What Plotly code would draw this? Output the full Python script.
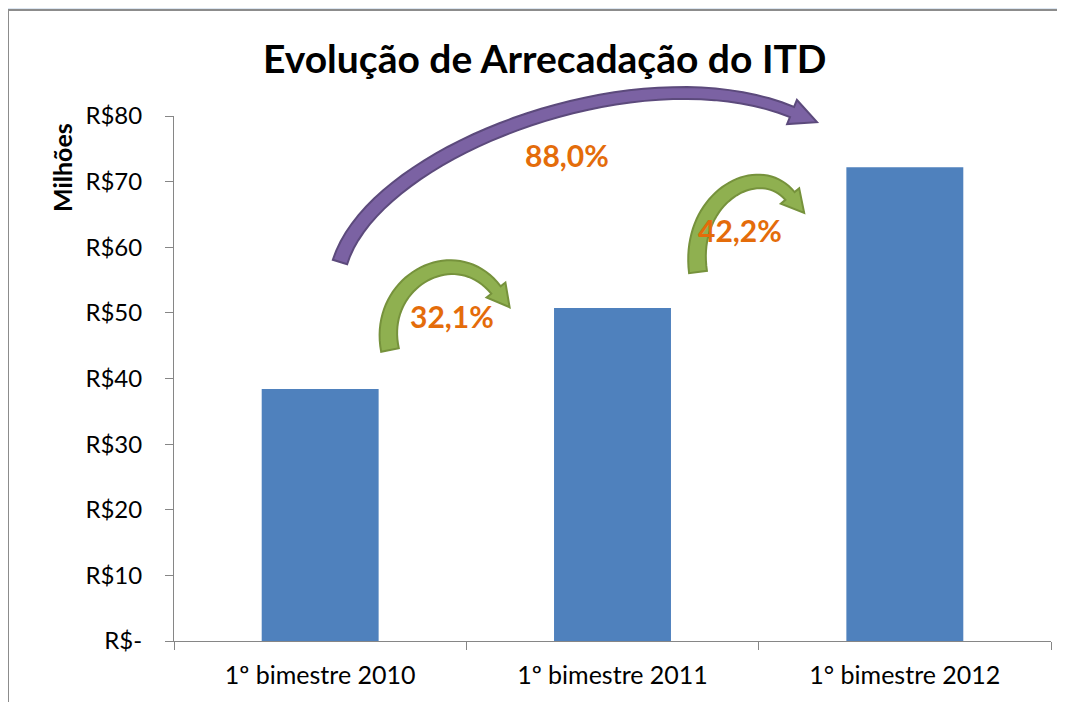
import numpy as np
import plotly.graph_objects as go

# data (R$ milhões)
categories = ["1º bimestre 2010", "1º bimestre 2011", "1° bimestre 2012"]
arrecadacao = [38.4, 50.75, 72.2]
y_tickvals = [0, 10, 20, 30, 40, 50, 60, 70, 80]
y_ticktext = ["R$-", "R$10", "R$20", "R$30", "R$40", "R$50", "R$60", "R$70", "R$80"]
growth_labels = ["32,1%", "42,2%", "88,0%"]

FONT = "Lato"
W, H = 1065, 702
OFF = 8  # page body margin
L, R, T, B = 174 - OFF, 22, 116 - OFF, 69
PW, PH = W - L - R, H - T - B


def to_paper(x, y):
    # pixel position on the screenshot -> paper coordinates
    return (x - OFF - L) / PW, (H - B - (y - OFF)) / PH


def arrow_path(ctrl, w0, w1, head_w, head_l, n=40):
    """curved block arrow along a cubic bezier given in pixels"""
    p = np.array(ctrl, dtype=float)
    t = np.linspace(0, 1, n)[:, None]
    pts = ((1 - t) ** 3) * p[0] + 3 * ((1 - t) ** 2) * t * p[1] \
        + 3 * (1 - t) * t ** 2 * p[2] + t ** 3 * p[3]
    der = 3 * ((1 - t) ** 2) * (p[1] - p[0]) + 6 * (1 - t) * t * (p[2] - p[1]) \
        + 3 * t ** 2 * (p[3] - p[2])
    tan = der / np.linalg.norm(der, axis=1)[:, None]
    nrm = np.column_stack([-tan[:, 1], tan[:, 0]])
    wid = np.linspace(w0, w1, n)[:, None] / 2
    left = pts + nrm * wid
    right = pts - nrm * wid
    end, d, nm = pts[-1], tan[-1], nrm[-1]
    head = [end + nm * head_w, end + d * head_l, end - nm * head_w]
    poly = list(left) + head + list(right[::-1])
    coords = [to_paper(x, y) for x, y in poly]
    return "M " + " L ".join(f"{x:.5f},{y:.5f}" for x, y in coords) + " Z"


fig = go.Figure(go.Bar(
    x=categories,
    y=arrecadacao,
    marker=dict(color="#4f81bd", line=dict(width=0)),
    width=0.4,
))

shapes = [
    # chart frame
    dict(type="rect", xref="paper", yref="paper", layer="below",
         x0=to_paper(8, 0)[0], x1=to_paper(1090, 0)[0],
         y0=to_paper(0, 720)[1], y1=to_paper(0, 10)[1],
         fillcolor="white", line=dict(color="#8c8c8c", width=2)),
]

arrows = [
    # (bezier control points, w0, w1, head half width, head length, fill, outline)
    ([(340, 262), (375, 150), (640, 50), (792, 112)], 15, 11, 13, 27, "#7b62a3", "#5c4a7c"),
    ([(390, 350), (376, 282), (455, 238), (496, 290)], 18, 12, 12, 22, "#8fb050", "#76923c"),
    ([(698, 272), (688, 198), (758, 158), (790, 196)], 18, 12, 12, 22, "#8fb050", "#76923c"),
]
for ctrl, w0, w1, hw, hl, fill, edge in arrows:
    shapes.append(dict(type="path", xref="paper", yref="paper",
                       path=arrow_path(ctrl, w0, w1, hw, hl),
                       fillcolor=fill, line=dict(color=edge, width=2)))

label_pos = [(452, 316), (740, 230), (567, 155)]
annotations = []
for txt, (x, y) in zip(growth_labels, label_pos):
    px, py = to_paper(x, y)
    annotations.append(dict(x=px, y=py, xref="paper", yref="paper", text=txt,
                            showarrow=False, xanchor="center", yanchor="middle",
                            font=dict(family=FONT, size=30, color="#e46c0a", weight="bold")))

mx, my = to_paper(62, 168)
annotations.append(dict(x=mx, y=my, xref="paper", yref="paper", text="Milhões",
                        textangle=-90, showarrow=False, xanchor="center", yanchor="middle",
                        font=dict(family=FONT, size=25, color="black", weight="bold")))

tx, ty = to_paper(545, 58)
fig.update_layout(
    width=W, height=H,
    margin=dict(l=L, r=R, t=T, b=B),
    paper_bgcolor="#dce6f1",
    plot_bgcolor="rgba(0,0,0,0)",
    showlegend=False,
    shapes=shapes,
    annotations=annotations + [dict(
        x=tx, y=ty, xref="paper", yref="paper", text="Evolução de Arrecadação do ITD",
        showarrow=False, xanchor="center", yanchor="middle",
        font=dict(family=FONT, size=39, color="black", weight="bold"))],
    font=dict(family=FONT, color="black"),
)

fig.update_xaxes(
    showline=True, linecolor="#868686", linewidth=1,
    ticks="outside", tickson="boundaries", ticklen=8, tickcolor="#868686",
    tickfont=dict(size=25), ticklabelstandoff=12,
    showgrid=False, zeroline=False, range=[-0.5, 2.5],
)
fig.update_yaxes(
    range=[0, 80], tickvals=y_tickvals, ticktext=y_ticktext,
    showline=True, linecolor="#868686", linewidth=1,
    ticks="outside", ticklen=8, tickcolor="#868686",
    tickfont=dict(size=24), ticklabelstandoff=18,
    showgrid=False, zeroline=False,
)

fig.write_html("out.html")
